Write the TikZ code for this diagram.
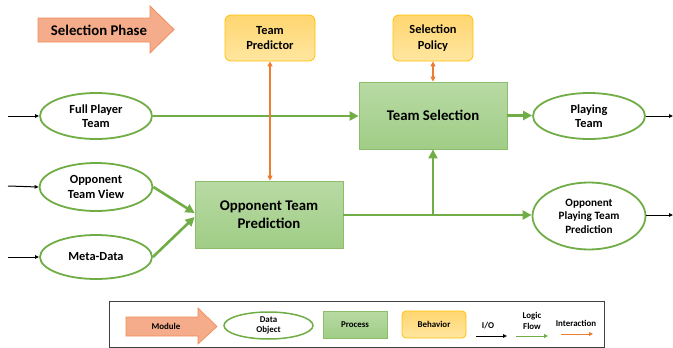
\documentclass[tikz,border=0pt]{standalone}
\usepackage{fontspec}
\setmainfont{Carlito}
\usetikzlibrary{arrows.meta,shapes.geometric}
\definecolor{gline}{RGB}{112,173,71}
\definecolor{gtop}{RGB}{184,218,164}
\definecolor{gbot}{RGB}{160,205,134}
\definecolor{yline}{RGB}{255,192,0}
\definecolor{ytop}{RGB}{255,214,112}
\definecolor{ybot}{RGB}{255,230,160}
\definecolor{oline}{RGB}{237,125,49}
\definecolor{mline}{RGB}{240,140,90}
\definecolor{mfill}{RGB}{245,172,138}
\tikzset{
  x=1pt,y=-1pt,
  dataobj/.style={ellipse,draw=gline,line width=1.8pt,fill=white,align=center,inner sep=0pt,font=\bfseries\fontsize{12.4}{14.5}\selectfont},
  procbox/.style={rectangle,draw=gline!80!white,line width=0.8pt,top color=gtop,bottom color=gbot,align=center,inner sep=0pt,font=\bfseries\fontsize{14.8}{18}\selectfont},
  behbox/.style={rectangle,rounded corners=6pt,draw=yline,line width=0.8pt,top color=ytop,bottom color=ybot,align=center,inner sep=0pt,font=\bfseries\fontsize{12.4}{15.5}\selectfont},
  flow/.style={draw=gline,line width=2.6pt,-{Triangle[length=9pt,width=9pt]}},
  flowline/.style={draw=gline,line width=2.6pt},
  inter/.style={draw=oline,line width=1.6pt,{Triangle[length=5pt,width=5pt]}-{Triangle[length=5pt,width=5pt]}},
  io/.style={draw=black,line width=1pt,-{Triangle[length=4pt,width=3.5pt]}},
  lab/.style={inner sep=0pt,align=center,font=\bfseries\fontsize{8.9}{10.5}\selectfont},
}
\begin{document}
\begin{tikzpicture}
\useasboundingbox (0,0) rectangle (673,348);
% Selection Phase module arrow
\draw[draw=mline,line width=0.8pt,fill=mfill] (38,18) -- (150,18) -- (150,6) -- (174,29.5) -- (150,53) -- (150,42) -- (38,42) -- cycle;
\node[inner sep=0pt,font=\bfseries\fontsize{14.8}{18}\selectfont] (phase) at (99,30) {Selection Phase};
% behaviors
\node[behbox,minimum width=90pt,minimum height=46pt] (tp) at (270,38) {Team\\Predictor};
\node[behbox,minimum width=80pt,minimum height=46pt] (sp) at (433,38) {Selection\\Policy};
% processes
\node[procbox,minimum width=148pt,minimum height=67pt] (ts) at (433,115.5) {Team Selection};
\node[procbox,minimum width=148pt,minimum height=67pt] (otp) at (269,214.5) {Opponent Team\\Prediction};
% data objects
\node[dataobj,minimum width=112pt,minimum height=46pt] (full) at (96,116) {Full Player\\Team};
\node[dataobj,minimum width=113pt,minimum height=48pt] (oview) at (96,187) {Opponent\\Team View};
\node[dataobj,minimum width=112pt,minimum height=44pt] (meta) at (96,257) {Meta-Data};
\node[dataobj,minimum width=112pt,minimum height=46pt] (play) at (589,116) {Playing\\Team};
\node[dataobj,minimum width=113pt,minimum height=67pt,font=\bfseries\fontsize{11.2}{13.5}\selectfont] (opred) at (589,216) {Opponent\\Playing Team\\Prediction};
% io coordinates
\coordinate (i1) at (8,116);
\coordinate (i2) at (8,186);
\coordinate (i3) at (8,257);
\coordinate (o1) at (673,116);
\coordinate (o2) at (673,215);
\draw[io] (i1) -- (full.west);
\draw[io] (i2) -- (oview.west);
\draw[io] (i3) -- (meta.west);
\draw[io] (play.east) -- (o1);
\draw[io] (opred.east |- o2) -- (o2);
% logic flow
\draw[flow] (full.east) -- (full.east -| ts.west);
\draw[flow] (ts.east) -- (ts.east -| play.west);
\draw[flow] (oview.east) -- ([yshift=1.5pt]otp.west);
\draw[flow] (meta.east) -- ([yshift=-2.5pt]otp.west);
\coordinate (br) at (433,215);
\draw[flowline] (otp.east |- br) -- (br);
\draw[flow] (br) -- (opred.west |- br);
\draw[flow] (br) -- (ts.south);
% interactions
\draw[inter] (tp.south) -- (tp.south |- otp.north);
\draw[inter] (sp.south) -- (ts.north);
% legend
\node[draw=black!75,line width=0.7pt,minimum width=495pt,minimum height=46pt,inner sep=0pt] (leg) at (356.5,324) {};
\draw[draw=mline,line width=0.7pt,fill=mfill] (126,317) -- (198,317) -- (198,308) -- (217,326.5) -- (198,344) -- (198,336) -- (126,336) -- cycle;
\node[lab] (lmod) at (166,326.5) {Module};
\node[dataobj,line width=1.5pt,minimum width=89pt,minimum height=27pt,font=\bfseries\fontsize{8.9}{10.5}\selectfont] (ldo) at (268.5,325.5) {Data\\Object};
\node[procbox,minimum width=64pt,minimum height=27pt,font=\bfseries\fontsize{8.9}{10.5}\selectfont] (lpr) at (355,324.5) {Process};
\node[behbox,rounded corners=4pt,minimum width=64pt,minimum height=27pt,font=\bfseries\fontsize{8.9}{10.5}\selectfont] (lbe) at (434,324.5) {Behavior};
\node[lab] (lio) at (488,326) {I/O};
\coordinate (lio1) at (476,336);
\coordinate (lio2) at (507,336);
\draw[io,line width=0.8pt] (lio1) -- (lio2);
\node[lab] (llf) at (532,321) {Logic\\Flow};
\coordinate (llf1) at (516,336);
\coordinate (llf2) at (548,336);
\draw[draw=gline,line width=1pt,-{Triangle[length=4pt,width=4pt]}] (llf1) -- (llf2);
\node[lab] (lin) at (576,323) {Interaction};
\coordinate (lin1) at (561,334);
\coordinate (lin2) at (593,334);
\draw[draw=oline,line width=1pt,-{Triangle[length=4pt,width=4pt]}] (lin1) -- (lin2);
\end{tikzpicture}
\end{document}
